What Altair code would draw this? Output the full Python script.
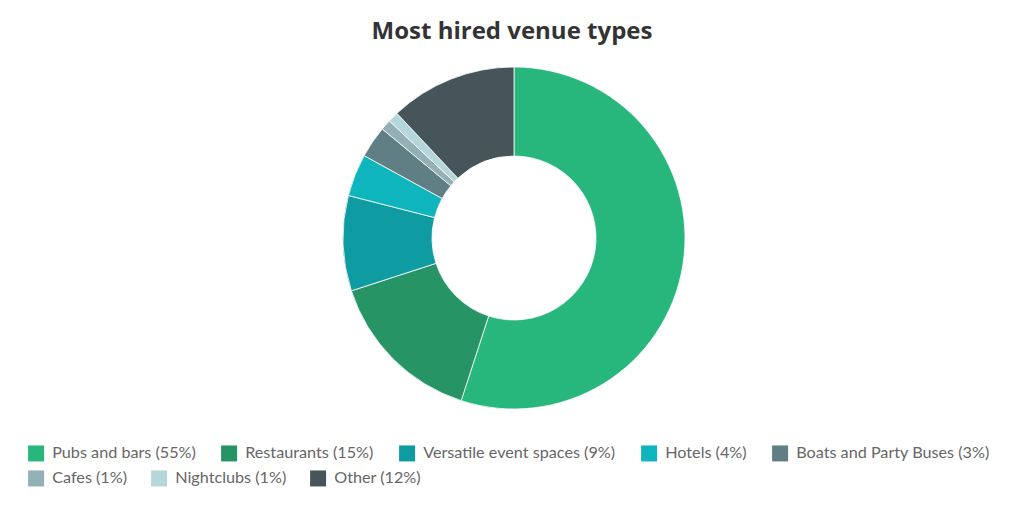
import altair as alt
import pandas as pd

categories = ["Pubs and bars", "Restaurants", "Versatile event spaces", "Hotels",
              "Boats and Party Buses", "Cafes", "Nightclubs", "Other"]
values = [55, 15, 9, 4, 3, 1, 1, 12]
colors = ["#27b67b", "#279466", "#0e9ba2", "#0fb5bd", "#607f84", "#93b0b4", "#b5d6db", "#455559"]

labels = [f"{c} ({v}%)" for c, v in zip(categories, values)]
df = pd.DataFrame({"label": labels, "label2": labels, "value": values,
                   "idx": list(range(len(values)))})

leg_common = dict(
    title=None, orient="none", direction="horizontal",
    symbolType="square", symbolSize=256, symbolStrokeWidth=0,
    labelFont="Lato", labelFontSize=16.2, labelColor="#666666",
    labelOffset=8, columnPadding=25, labelLimit=400,
)

base = alt.Chart(df).mark_arc(
    innerRadius=82, outerRadius=171, stroke="white", strokeWidth=0.8
).encode(
    theta=alt.Theta("value:Q", stack=True),
    order=alt.Order("idx:Q"),
    x=alt.value(514),
    y=alt.value(238),
)

layer1 = base.encode(
    color=alt.Color(
        "label:N",
        scale=alt.Scale(domain=labels, range=colors),
        sort=labels,
        legend=alt.Legend(values=labels[:5], legendX=28, legendY=445, **leg_common),
    )
)
layer2 = base.encode(
    color=alt.Color(
        "label2:N",
        scale=alt.Scale(domain=labels, range=colors),
        sort=labels,
        legend=alt.Legend(values=labels[5:], legendX=28, legendY=470,
                          **{**leg_common, "columnPadding": 23}),
    )
)

chart = alt.layer(layer1, layer2).resolve_scale(color="independent").resolve_legend(
    color="independent"
).properties(
    width=1024, height=511, padding=0,
    autosize=alt.AutoSizeParams(type="none"),
    title=alt.TitleParams(
        "Most hired venue types", font="Open Sans", fontSize=24, fontWeight=700,
        color="#333333", anchor="middle", dy=48, dx=0,
    ),
).configure_view(stroke=None)

chart.save("out.html", embed_options={"renderer": "svg", "actions": False})
